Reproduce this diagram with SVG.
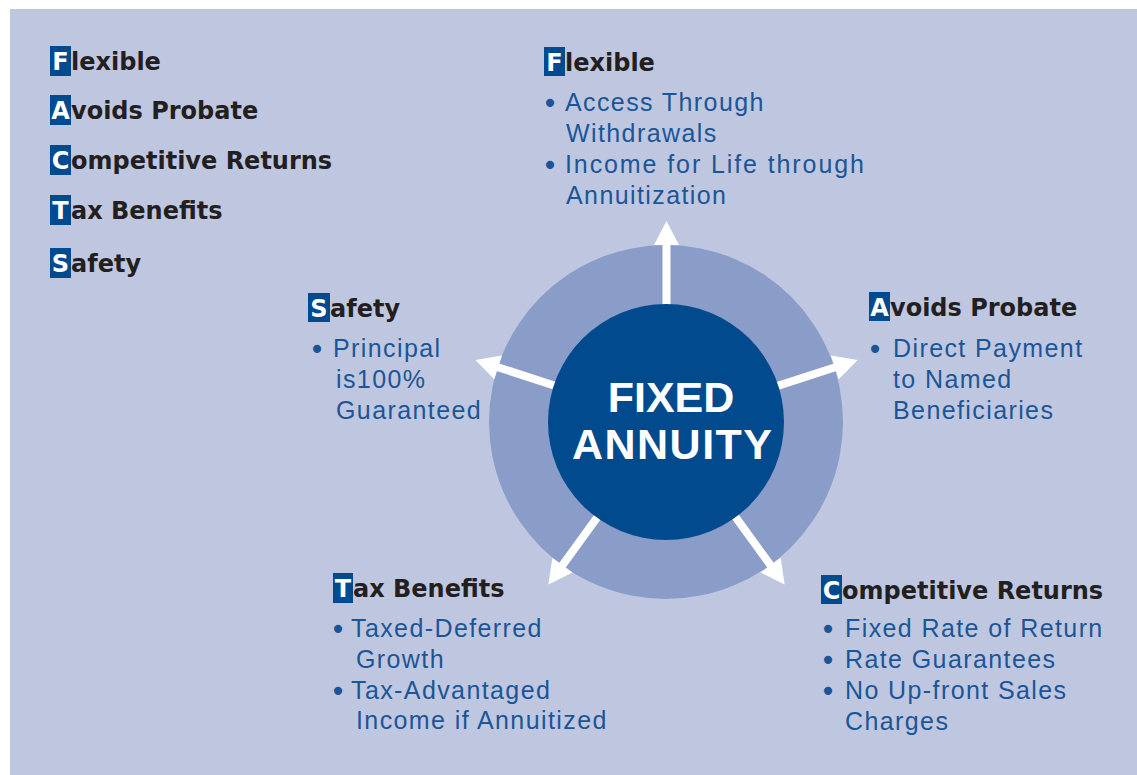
<svg xmlns="http://www.w3.org/2000/svg" width="1137" height="775" viewBox="0 0 1137 775">
<style>
.hd{font-family:"DejaVu Sans","Liberation Sans",sans-serif;font-weight:bold;font-size:24px;fill:#231F20}
.ini{font-family:"DejaVu Sans","Liberation Sans",sans-serif;font-weight:bold;font-size:24px;fill:#FFFFFF;text-anchor:middle}
.sq{fill:#004A8F}
.bd{font-family:"Liberation Sans",Arial,sans-serif;font-size:25px;letter-spacing:1.4px;fill:#1B5597}
.bul{font-family:"DejaVu Sans",sans-serif;font-size:28px;fill:#1B5597;text-anchor:middle}
.ctr{font-family:"Liberation Sans",Arial,sans-serif;font-weight:bold;font-size:43px;fill:#FFFFFF;text-anchor:middle}
</style>
<defs>
<g id="arrow"><line x1="90" y1="0" x2="179" y2="0" stroke="#FFFFFF" stroke-width="8"/><polygon points="177,-12.5 201,0 177,12.5" fill="#FFFFFF"/></g>
</defs>
<rect x="10" y="9" width="1127" height="766" fill="#BFC7E0"/>

<g id="facts-list">
<rect class="sq" x="50" y="46" width="21" height="30"/><text class="ini" x="60.5" y="70">F</text><text class="hd" x="71" y="70">lexible</text>
<rect class="sq" x="50" y="95" width="21" height="30"/><text class="ini" x="60.5" y="119">A</text><text class="hd" x="71" y="119">voids Probate</text>
<rect class="sq" x="50" y="145" width="21" height="30"/><text class="ini" x="60.5" y="169">C</text><text class="hd" x="71" y="169">ompetitive Returns</text>
<rect class="sq" x="50" y="195" width="21" height="30"/><text class="ini" x="60.5" y="219">T</text><text class="hd" x="71" y="219">ax Benefits</text>
<rect class="sq" x="50" y="248" width="21" height="30"/><text class="ini" x="60.5" y="272">S</text><text class="hd" x="71" y="272">afety</text>
</g>

<g id="ring">
<circle cx="666" cy="422" r="177" fill="#8A9DC8"/>
</g>

<g id="connectors">
<use href="#arrow" transform="translate(666.5,422) rotate(-90)"/>
<use href="#arrow" transform="translate(666.5,422) rotate(-18)"/>
<use href="#arrow" transform="translate(666.5,422) rotate(54)"/>
<use href="#arrow" transform="translate(666.5,422) rotate(126)"/>
<use href="#arrow" transform="translate(666.5,422) rotate(198)"/>
</g>

<g id="center">
<circle cx="666" cy="422" r="118" fill="#024A8E"/>
<text class="ctr" x="671" y="412">FIXED</text>
<text class="ctr" x="672" y="459" textLength="200">ANNUITY</text>
</g>

<g id="flexible">
<rect class="sq" x="544" y="47" width="21" height="29"/><text class="ini" x="554.5" y="71">F</text><text class="hd" x="565" y="71">lexible</text>
<text class="bul" x="550" y="113">•</text><text class="bd" x="565" y="111">Access Through</text>
<text class="bd" x="566" y="142">Withdrawals</text>
<text class="bul" x="550" y="175">•</text><text class="bd" x="565" y="173" style="letter-spacing:1.9px">Income for Life through</text>
<text class="bd" x="566" y="204">Annuitization</text>
</g>

<g id="avoids-probate">
<rect class="sq" x="869" y="292" width="21" height="29"/><text class="ini" x="879.5" y="316">A</text><text class="hd" x="890" y="316">voids Probate</text>
<text class="bul" x="875" y="359">•</text><text class="bd" x="893" y="357">Direct Payment</text>
<text class="bd" x="893" y="388">to Named</text>
<text class="bd" x="893" y="419">Beneficiaries</text>
</g>

<g id="competitive-returns">
<rect class="sq" x="821" y="575" width="21" height="29"/><text class="ini" x="831.5" y="599">C</text><text class="hd" x="842" y="599">ompetitive Returns</text>
<text class="bul" x="828" y="639">•</text><text class="bd" x="845" y="637">Fixed Rate of Return</text>
<text class="bul" x="828" y="670">•</text><text class="bd" x="845" y="668">Rate Guarantees</text>
<text class="bul" x="828" y="701">•</text><text class="bd" x="845" y="699">No Up-front Sales</text>
<text class="bd" x="845" y="730">Charges</text>
</g>

<g id="tax-benefits">
<rect class="sq" x="333" y="573" width="20" height="30"/><text class="ini" x="343" y="597">T</text><text class="hd" x="353" y="597">ax Benefits</text>
<text class="bul" x="338" y="639">•</text><text class="bd" x="351" y="637">Taxed-Deferred</text>
<text class="bd" x="356" y="668">Growth</text>
<text class="bul" x="338" y="701">•</text><text class="bd" x="351" y="699">Tax-Advantaged</text>
<text class="bd" x="356" y="729">Income if Annuitized</text>
</g>

<g id="safety">
<rect class="sq" x="308" y="293" width="22" height="29"/><text class="ini" x="319" y="317">S</text><text class="hd" x="330" y="317">afety</text>
<text class="bul" x="317" y="359">•</text><text class="bd" x="333" y="357">Principal</text>
<text class="bd" x="336" y="388">is100%</text>
<text class="bd" x="336" y="419">Guaranteed</text>
</g>
</svg>
